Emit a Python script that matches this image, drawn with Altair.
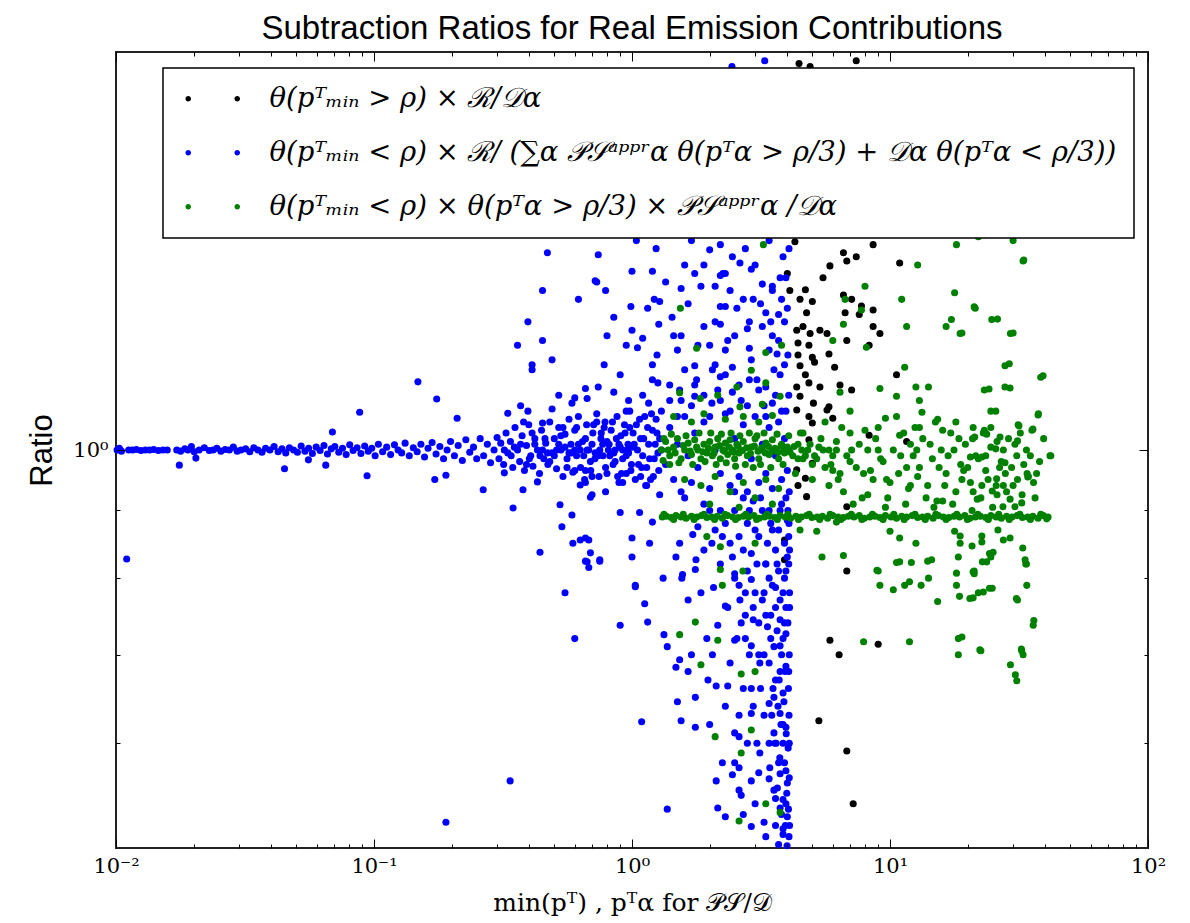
import altair as alt
import pandas as pd

# ---------------- series labels ----------------
L1 = "θ(pᵀₘᵢₙ > ρ) × ℛ/𝒟α"
L2 = "θ(pᵀₘᵢₙ < ρ) × ℛ/ (∑α 𝒫𝒮ᵃᵖᵖʳα θ(pᵀα > ρ/3) + 𝒟α θ(pᵀα < ρ/3))"
L3 = "θ(pᵀₘᵢₙ < ρ) × θ(pᵀα > ρ/3) × 𝒫𝒮ᵃᵖᵖʳα /𝒟α"
SERIES = [L1, L2, L3]
COLORS = ["#000000", "#0000ff", "#008000"]

TITLE = "Subtraction Ratios for Real Emission Contributions"
XTITLE = "min(pᵀ) , pᵀα for 𝒫𝒮/𝒟"
YTITLE = "Ratio"

x_major = [0.01, 0.1, 1, 10, 100]
x_major_text = ["10⁻²", "10⁻¹", "10⁰", "10¹", "10²"]
x_minor = [0.02, 0.03, 0.04, 0.05, 0.06, 0.07, 0.08, 0.09,
           0.2, 0.3, 0.4, 0.5, 0.6, 0.7, 0.8, 0.9,
           2, 3, 4, 5, 6, 7, 8, 9, 20, 30, 40, 50, 60, 70, 80, 90]
y_major = [1]
y_major_text = ["10⁰"]
y_minor = [0.6, 0.7, 0.8, 0.9]

# ---------------- black series ----------------
black_pts = [
    (4.28, 1.437), (8.6, 1.43), (6.6, 1.41), (7.4, 1.40), (6.8, 1.39), (10.9, 1.385),
    (5.85, 1.378), (5.5, 1.35), (4.0, 1.36), (4.09, 1.32), (4.7, 1.322), (4.48, 1.30),
    (5.0, 1.295), (4.75, 1.27), (6.6, 1.31), (7.1, 1.30), (7.75, 1.285), (6.7, 1.27),
    (8.6, 1.276), (7.6, 1.266), (4.35, 1.232), (4.6, 1.24), (4.9, 1.225), (5.35, 1.232),
    (5.7, 1.225), (8.6, 1.24), (9.14, 1.225), (8.3, 1.20), (6.8, 1.21), (4.4, 1.205),
    (4.85, 1.20), (4.4, 1.18), (5.0, 1.175), (5.8, 1.182), (4.48, 1.158), (5.1, 1.165),
    (4.7, 1.14), (6.1, 1.155), (10.6, 1.14), (4.35, 1.116), (4.85, 1.124), (5.35, 1.116),
    (6.4, 1.12), (7.1, 1.11), (4.48, 1.098), (5.05, 1.085), (5.8, 1.078), (4.35, 1.072),
    (4.85, 1.06), (5.0, 1.048), (6.0, 1.057), (5.7, 1.072), (8.3, 1.026), (11.6, 1.015),
    (4.85, 1.018), (4.35, 0.966), (4.7, 0.952), (4.4, 0.94), (5.0, 0.977), (6.8, 0.906),
    (4.75, 0.922), (3.9, 0.855), (3.9, 0.826), (6.8, 0.81), (5.85, 0.718), (9.0, 0.713),
    (6.35, 0.70), (5.3, 0.624), (6.8, 0.592), (7.2, 0.54),
    (4.44, 1.96), (4.9, 1.95), (7.4, 1.97), (7.6, 1.93), (4.6, 1.9),
]

# ---------------- blue series ----------------
blue_core = [
    (0.0101, 1.0), (0.0103, 1.003), (0.0105, 0.998), (0.0112, 1.0), (0.0116, 1.0),
    (0.012, 1.001), (0.0125, 0.999), (0.013, 1.0), (0.0135, 1.0), (0.014, 1.001),
    (0.0146, 0.999), (0.0152, 1.0), (0.0158, 1.0), (0.0172, 1.0), (0.0178, 0.998),
    (0.0185, 1.002), (0.019, 1.0), (0.0196, 1.006), (0.0201, 0.997), (0.021, 1.0),
    (0.022, 1.004), (0.023, 0.999), (0.0238, 1.0), (0.0246, 1.003), (0.0255, 0.998),
    (0.0265, 1.001), (0.0275, 1.0), (0.0285, 1.005), (0.0295, 0.998), (0.0305, 1.0),
    (0.0318, 1.002), (0.033, 0.997), (0.0342, 1.004), (0.0355, 1.0), (0.0368, 0.996),
    (0.038, 1.003), (0.0395, 1.0), (0.041, 1.006), (0.0425, 0.997), (0.044, 1.002),
    (0.0455, 0.995), (0.047, 1.004), (0.0488, 1.0), (0.0505, 0.996), (0.0522, 1.007),
    (0.054, 0.998), (0.0558, 1.003), (0.0577, 0.994), (0.0597, 1.005), (0.0618, 0.999),
    (0.064, 1.008), (0.066, 0.993), (0.0683, 1.002), (0.0705, 1.006), (0.073, 0.996),
    (0.0755, 1.003), (0.078, 0.992), (0.0805, 1.009), (0.083, 0.999), (0.086, 1.004),
    (0.089, 0.994), (0.092, 1.007), (0.095, 0.998), (0.098, 1.003), (0.101, 0.99),
    (0.104, 1.01), (0.108, 0.997), (0.112, 1.005), (0.116, 0.992), (0.12, 1.009),
    (0.124, 1.0), (0.128, 0.995), (0.132, 1.012), (0.137, 0.99), (0.142, 1.004),
    (0.147, 0.997), (0.152, 1.01), (0.157, 0.988), (0.162, 1.003), (0.168, 1.013),
    (0.174, 0.993), (0.18, 1.006), (0.186, 0.985), (0.192, 1.0), (0.198, 1.015),
    (0.205, 0.99), (0.212, 1.008), (0.22, 0.982), (0.227, 1.018), (0.235, 0.996),
    (0.243, 1.005), (0.25, 0.985), (0.258, 1.02), (0.266, 0.99), (0.275, 1.01),
    (0.283, 0.978), (0.292, 1.0), (0.3, 1.022),
]
blue_band = [
    (0.305, 0.985), (0.31, 1.012), (0.318, 0.975), (0.325, 1.03), (0.33, 0.995),
    (0.338, 1.015), (0.345, 0.97), (0.352, 1.04), (0.36, 1.0), (0.367, 0.98),
    (0.375, 1.025), (0.383, 0.965), (0.39, 1.008), (0.398, 1.045), (0.405, 0.99),
    (0.413, 0.972), (0.42, 1.02), (0.43, 1.0), (0.438, 0.96), (0.446, 1.035),
    (0.455, 0.985), (0.463, 1.012), (0.472, 0.975), (0.48, 1.05), (0.49, 0.995),
    (0.5, 1.02), (0.51, 0.968), (0.52, 1.04), (0.53, 1.0), (0.54, 0.955),
    (0.55, 1.028), (0.56, 0.985), (0.57, 1.055), (0.58, 1.01), (0.59, 0.962),
    (0.6, 1.035), (0.61, 0.99), (0.62, 1.06), (0.632, 0.97), (0.643, 1.015),
    (0.655, 0.95), (0.667, 1.045), (0.68, 1.0), (0.692, 0.965), (0.705, 1.03),
    (0.718, 0.985), (0.73, 1.065), (0.745, 0.955), (0.758, 1.02), (0.772, 0.99),
    (0.786, 1.05), (0.8, 0.96), (0.815, 1.01), (0.83, 1.035), (0.845, 0.975),
    (0.86, 1.0), (0.875, 1.06), (0.89, 0.945), (0.905, 1.025), (0.92, 0.985),
    (0.935, 1.045), (0.95, 0.96), (0.965, 1.01), (0.98, 1.07), (0.995, 0.975),
    (1.01, 1.03), (1.03, 0.95), (1.05, 1.0), (1.07, 1.055), (1.09, 0.97),
    (1.11, 1.02), (1.13, 0.94), (1.15, 1.04), (1.17, 0.985), (1.19, 1.065),
    (1.21, 0.955), (1.23, 1.01), (1.25, 1.03), (1.27, 0.965), (1.3, 1.0),
    (0.35, 1.005), (0.4, 0.985), (0.45, 1.0), (0.5, 0.99), (0.55, 1.005),
    (0.6, 1.0), (0.65, 0.99), (0.7, 1.01), (0.75, 1.0), (0.8, 1.015),
    (0.85, 0.995), (0.9, 1.005), (0.95, 0.99), (1.0, 1.005), (0.42, 1.01),
    (0.47, 0.995), (0.52, 1.01), (0.57, 0.995), (0.62, 1.01), (0.67, 1.0),
    (0.72, 0.995), (0.77, 1.01), (0.82, 0.99), (0.87, 1.02), (0.92, 1.0), (0.97, 0.995),
    (1.35, 0.975), (1.4, 1.04), (1.45, 0.95), (1.5, 1.01), (1.55, 0.93),
    (1.6, 1.06), (1.65, 0.99), (1.7, 0.945), (1.75, 1.03), (1.8, 0.97),
    (1.9, 1.05), (2.0, 0.935), (2.1, 1.0), (2.2, 0.96), (2.3, 1.065),
    (2.4, 0.94), (2.5, 1.02), (2.6, 0.955), (2.7, 1.045), (2.8, 0.93),
    (2.9, 0.985), (3.0, 1.06), (3.1, 0.945), (3.2, 1.01), (3.3, 0.96),
    (3.4, 1.04), (3.5, 0.935), (3.6, 0.99), (3.7, 1.05), (3.8, 0.95),
    (3.9, 1.02), (4.0, 0.965), (4.05, 1.0),
]
blue_band_more = [
    (0.32, 1.0), (0.34, 0.99), (0.37, 1.01), (0.39, 0.975), (0.41, 1.03), (0.44, 0.99),
    (0.46, 1.02), (0.48, 0.98), (0.51, 1.0), (0.53, 1.025), (0.56, 0.97), (0.58, 0.995),
    (0.61, 1.04), (0.63, 1.0), (0.66, 1.02), (0.69, 0.98), (0.71, 1.045), (0.74, 0.99),
    (0.76, 1.03), (0.79, 0.97), (0.81, 1.0), (0.84, 1.05), (0.86, 0.98), (0.89, 1.01),
    (0.91, 0.96), (0.94, 1.03), (0.96, 1.0), (0.99, 0.965), (1.02, 1.01), (1.04, 1.045),
    (1.06, 0.975), (1.08, 1.02), (1.1, 0.99), (1.12, 1.06), (1.14, 0.97), (1.16, 1.01),
    (1.18, 0.95), (1.2, 1.035), (1.22, 0.985), (1.24, 1.055), (1.26, 0.995), (1.28, 1.02),
    (0.66, 0.965), (0.7, 0.955), (0.78, 1.04), (0.88, 0.955), (0.98, 1.04), (1.08, 0.955),
    (0.6, 0.965), (0.54, 1.04),
]
blue_upper = [
    (0.148, 1.126), (0.175, 1.093), (0.088, 1.068), (0.069, 1.032), (0.21, 1.057),
    (0.47, 1.41), (0.45, 1.32), (0.73, 1.34), (0.62, 1.30), (0.395, 1.25),
    (0.36, 1.20), (0.45, 1.21), (0.49, 1.17), (0.41, 1.16), (0.41, 1.15),
    (0.52, 1.10), (0.60, 1.095), (0.585, 1.085), (0.49, 1.074), (0.395, 1.07),
    (0.37, 1.08), (0.33, 1.066), (0.38, 1.05), (0.45, 1.048), (0.73, 1.05),
    (1.04, 1.44), (1.24, 1.42), (1.7, 1.44), (2.0, 1.417), (2.2, 1.43),
    (0.74, 1.405), (1.6, 1.38), (2.62, 1.385), (2.9, 1.37), (1.0, 1.365),
    (1.2, 1.365), (1.75, 1.36), (2.2, 1.355), (2.3, 1.36), (0.72, 1.343),
    (0.79, 1.32), (1.55, 1.325), (2.1, 1.33), (2.4, 1.32), (3.2, 1.335),
    (3.5, 1.33), (1.22, 1.30), (1.28, 1.295), (0.99, 1.284), (2.2, 1.284),
    (2.3, 1.284), (2.95, 1.30), (3.8, 1.30), (1.43, 1.26), (3.3, 1.27),
    (3.7, 1.266), (1.0, 1.232), (1.27, 1.245), (1.9, 1.24), (2.2, 1.245),
    (2.8, 1.235), (0.8, 1.22), (1.1, 1.215), (1.55, 1.22), (2.35, 1.21),
    (3.5, 1.22), (1.05, 1.195), (1.5, 1.19), (2.0, 1.2), (2.3, 1.19),
    (2.85, 1.194), (3.65, 1.182), (0.78, 1.16), (0.9, 1.14), (1.2, 1.16),
    (1.75, 1.158), (2.1, 1.16), (2.45, 1.155), (3.75, 1.14), (0.74, 1.116),
    (0.85, 1.106), (1.26, 1.124), (1.53, 1.11), (1.78, 1.13), (2.2, 1.136),
    (2.85, 1.13), (3.3, 1.116), (0.97, 1.09), (1.16, 1.085), (1.4, 1.09),
    (1.75, 1.098), (2.04, 1.085), (2.45, 1.106), (3.5, 1.085), (0.67, 1.094),
    (0.66, 1.113), (3.9, 1.25), (4.02, 1.18), (3.95, 1.35), (4.05, 1.1),
    (2.44, 1.95), (3.08, 1.93), (3.27, 1.97),
]
blue_upper_more = [
    (1.3, 1.07), (1.4, 1.12), (1.5, 1.06), (1.6, 1.15), (1.7, 1.08), (1.8, 1.2),
    (1.9, 1.1), (2.0, 1.06), (2.1, 1.25), (2.2, 1.09), (2.3, 1.14), (2.4, 1.07),
    (2.5, 1.22), (2.6, 1.12), (2.7, 1.3), (2.8, 1.08), (2.9, 1.17), (3.0, 1.38),
    (3.1, 1.11), (3.2, 1.24), (3.3, 1.06), (3.4, 1.19), (3.5, 1.32), (3.6, 1.1),
    (3.7, 1.21), (3.8, 1.07), (3.9, 1.16), (4.0, 1.28), (4.06, 1.42), (3.85, 1.4),
    (3.4, 1.44), (2.75, 1.42), (2.45, 1.4), (1.9, 1.38), (1.35, 1.34), (1.15, 1.28),
    (0.95, 1.2), (0.85, 1.26), (1.25, 1.18), (1.45, 1.22), (1.65, 1.29), (1.85, 1.33),
    (2.05, 1.15), (2.25, 1.36), (2.55, 1.28), (2.85, 1.25), (3.15, 1.29), (3.45, 1.25),
    (3.75, 1.35), (3.95, 1.07), (1.1, 1.1), (1.2, 1.13), (0.95, 1.07), (1.55, 1.09),
    (1.75, 1.12), (2.15, 1.11), (2.65, 1.09), (3.05, 1.13), (3.55, 1.15), (3.25, 1.08),
]
blue_lower = [
    (0.045, 0.968), (0.0176, 0.974), (0.0204, 0.986), (0.0557, 0.983), (0.065, 0.974),
    (0.094, 0.956), (0.172, 0.95), (0.19, 0.957), (0.265, 0.933), (0.346, 0.904),
    (0.44, 0.837), (0.378, 0.933), (0.43, 0.946), (0.32, 0.961), (0.526, 0.909),
    (0.585, 0.893), (0.535, 0.875), (0.59, 0.85), (0.66, 0.858), (0.67, 0.823),
    (0.69, 0.836), (0.63, 0.941), (0.69, 0.921),
    (0.011, 0.827), (0.19, 0.523), (0.337, 0.562), (0.55, 0.78), (0.6, 0.72),
    (0.66, 0.945), (0.79, 0.93), (0.7, 0.925), (0.92, 0.945), (1.14, 0.94),
    (1.28, 0.925), (0.9, 0.897), (1.07, 0.897), (1.2, 0.882), (0.68, 0.855),
    (0.75, 0.826), (1.0, 0.858), (1.17, 0.85), (1.0, 0.83), (1.53, 0.85),
    (1.48, 0.83), (1.72, 0.863), (1.77, 0.826), (2.04, 0.85), (2.24, 0.86),
    (1.32, 0.80), (1.57, 0.805), (1.03, 0.788), (0.68, 0.815), (0.63, 0.855),
    (0.66, 0.824), (0.75, 0.824),
    (1.03, 0.79), (1.12, 0.765), (1.15, 0.741), (0.9, 0.737), (1.09, 0.623),
    (1.37, 0.535), (1.33, 0.725), (1.37, 0.71), (1.53, 0.694), (1.48, 0.685),
    (1.65, 0.68), (1.55, 0.624), (1.76, 0.617), (1.5, 0.645), (1.76, 0.65),
    (1.97, 0.67), (2.12, 0.663), (2.35, 0.663), (2.5, 0.718), (1.56, 0.80),
    (1.65, 0.77), (1.76, 0.812), (2.07, 0.787), (2.3, 0.762), (2.15, 0.737),
    (2.62, 0.77), (2.95, 0.744), (2.9, 0.711), (3.13, 0.69), (2.5, 0.806),
    (2.9, 0.798), (3.25, 0.78), (3.6, 0.787), (3.95, 0.81), (3.75, 0.744),
    (3.95, 0.726), (3.75, 0.711), (3.95, 0.686), (3.6, 0.67), (3.85, 0.655),
    (3.4, 0.643), (3.75, 0.632), (3.95, 0.617), (3.55, 0.611), (3.85, 0.60),
    (3.13, 0.59), (2.9, 0.632), (2.6, 0.607), (2.5, 0.611), (2.24, 0.58),
    (2.12, 0.562), (2.45, 0.568), (2.6, 0.575), (2.9, 0.562), (2.6, 0.553),
    (3.4, 0.564), (3.75, 0.569), (3.55, 0.553), (3.95, 0.572), (3.85, 0.544),
    (2.15, 0.536), (2.3, 0.528), (2.9, 0.519), (3.25, 0.523), (3.85, 0.517),
    (3.7, 0.503), (3.85, 0.512), (2.65, 0.548), (3.75, 0.536), (4.0, 0.528),
    (4.05, 0.82), (3.9, 0.80), (4.08, 0.78), (3.95, 0.76), (4.02, 0.74),
    (3.85, 0.72), (4.07, 0.70), (3.92, 0.68), (4.04, 0.66), (3.88, 0.645),
    (4.06, 0.63), (3.96, 0.61), (4.03, 0.595), (3.9, 0.58), (4.07, 0.565),
    (3.98, 0.55), (4.04, 0.535), (3.93, 0.52), (4.06, 0.51), (3.99, 0.502),
    (3.7, 0.81), (3.75, 0.77), (3.65, 0.73), (3.8, 0.70), (3.72, 0.67),
    (3.68, 0.64), (3.78, 0.62), (3.62, 0.60), (3.74, 0.585), (3.66, 0.555),
    (3.8, 0.53), (3.5, 0.79), (3.45, 0.75), (3.55, 0.71), (3.4, 0.69),
    (3.52, 0.66), (3.48, 0.63), (3.58, 0.60), (3.42, 0.575), (3.6, 0.545),
    (3.3, 0.82), (3.2, 0.77), (3.35, 0.735), (3.25, 0.70), (3.1, 0.74),
    (3.0, 0.78), (3.15, 0.66), (2.95, 0.64), (3.05, 0.60), (2.85, 0.70),
    (2.75, 0.75), (2.8, 0.81), (2.6, 0.79), (2.45, 0.83), (2.7, 0.66), (2.55, 0.72),
    (2.5, 0.90), (2.8, 0.88), (3.1, 0.86), (3.4, 0.90), (3.7, 0.87),
    (4.0, 0.885), (3.9, 0.85), (3.6, 0.84), (3.3, 0.82), (2.9, 0.835),
    (2.6, 0.86), (2.3, 0.88), (2.0, 0.90), (1.8, 0.875), (3.95, 0.92),
    (3.75, 0.90), (3.5, 0.87), (3.2, 0.90), (2.95, 0.915), (2.7, 0.92),
    (4.05, 0.86), (4.02, 0.90), (4.08, 0.84), (4.06, 0.88),
]
blue_lower_more = [
    (1.6, 0.92), (1.9, 0.91), (2.2, 0.90), (2.5, 0.93), (2.85, 0.90), (3.15, 0.92),
    (3.45, 0.88), (3.8, 0.91), (4.07, 0.93), (2.1, 0.87), (2.4, 0.85), (2.7, 0.84),
    (3.0, 0.87), (3.35, 0.85), (3.65, 0.82), (4.0, 0.83), (2.2, 0.82), (2.5, 0.80),
    (2.75, 0.78), (3.05, 0.82), (3.4, 0.80), (3.85, 0.78), (4.08, 0.76), (2.35, 0.76),
    (2.65, 0.74), (2.95, 0.76), (3.3, 0.75), (3.6, 0.76), (3.9, 0.74), (2.05, 0.70),
    (2.4, 0.69), (2.75, 0.72), (3.1, 0.70), (3.45, 0.72), (3.75, 0.68), (4.05, 0.68),
    (2.3, 0.64), (2.6, 0.63), (2.9, 0.66), (3.25, 0.63), (3.55, 0.65), (3.85, 0.62),
    (4.07, 0.60), (2.5, 0.58), (2.8, 0.60), (3.1, 0.57), (3.4, 0.60), (3.7, 0.58),
    (4.0, 0.56), (2.7, 0.53), (3.0, 0.54), (3.3, 0.51), (3.6, 0.52), (3.95, 0.54),
    (4.08, 0.52), (1.85, 0.78), (1.95, 0.72), (1.7, 0.70), (2.0, 0.62), (1.9, 0.84),
]
blue_pts = (blue_core + blue_band + blue_band_more + blue_upper + blue_upper_more
            + blue_lower + blue_lower_more)

# ---------------- green series ----------------
green_line = [
    (1.31, 0.89), (1.36, 0.891), (1.42, 0.889), (1.48, 0.892), (1.55, 0.89),
    (1.62, 0.888), (1.7, 0.891), (1.78, 0.89), (1.86, 0.892), (1.95, 0.889),
    (2.04, 0.89), (2.14, 0.891), (2.24, 0.888), (2.35, 0.892), (2.46, 0.89),
    (2.58, 0.889), (2.7, 0.891), (2.83, 0.89), (2.97, 0.892), (3.11, 0.888),
    (3.26, 0.89), (3.42, 0.891), (3.58, 0.889), (3.75, 0.892), (3.93, 0.89),
    (4.12, 0.888), (4.32, 0.891), (4.53, 0.89), (4.75, 0.892), (4.98, 0.889),
    (5.22, 0.89), (5.47, 0.891), (5.73, 0.888), (6.0, 0.892), (6.3, 0.89),
    (6.6, 0.889), (6.9, 0.891), (7.25, 0.89), (7.6, 0.892), (7.95, 0.888),
    (8.35, 0.89), (8.75, 0.891), (9.15, 0.889), (9.6, 0.892), (10.1, 0.89),
    (10.6, 0.888), (11.1, 0.891), (11.6, 0.89), (12.2, 0.892), (12.8, 0.889),
    (13.4, 0.89), (14.0, 0.891), (14.7, 0.888), (15.4, 0.892), (16.1, 0.89),
    (16.9, 0.889), (17.7, 0.891), (18.6, 0.89), (19.5, 0.892), (20.4, 0.888),
    (21.4, 0.89), (22.4, 0.891), (23.5, 0.889), (24.6, 0.892), (25.8, 0.89),
    (27.0, 0.888), (28.3, 0.891), (29.7, 0.89), (31.1, 0.892), (32.6, 0.889),
    (34.2, 0.89), (35.8, 0.891), (37.5, 0.888), (39.3, 0.892), (41.0, 0.89),
    (1.33, 0.894), (1.45, 0.886), (1.58, 0.894), (1.74, 0.886), (1.9, 0.894),
    (2.09, 0.886), (2.29, 0.894), (2.52, 0.886), (2.76, 0.894), (3.04, 0.886),
    (3.34, 0.894), (3.66, 0.886), (4.02, 0.894), (4.42, 0.886), (4.86, 0.894),
    (5.34, 0.886), (5.86, 0.894), (6.45, 0.886), (7.08, 0.894), (7.78, 0.886),
    (8.55, 0.894), (9.4, 0.886), (10.35, 0.894), (11.35, 0.886), (12.5, 0.894),
    (13.7, 0.886), (15.05, 0.894), (16.5, 0.886), (18.15, 0.894), (19.95, 0.886),
    (21.9, 0.894), (24.05, 0.886), (26.4, 0.894), (29.0, 0.886), (31.85, 0.894),
    (35.0, 0.886), (38.4, 0.894), (40.5, 0.887),
]
green_band = [
    (1.3, 1.0), (1.35, 1.015), (1.4, 0.99), (1.45, 1.005), (1.5, 1.02),
    (1.55, 0.985), (1.6, 1.0), (1.65, 1.012), (1.7, 0.992), (1.75, 1.018),
    (1.8, 1.0), (1.85, 0.985), (1.9, 1.01), (1.95, 0.995), (2.0, 1.015),
    (2.05, 0.99), (2.1, 1.005), (2.15, 1.02), (2.2, 0.985), (2.25, 1.0),
    (2.3, 1.012), (2.35, 0.992), (2.4, 1.018), (2.45, 1.0), (2.5, 0.985),
    (2.55, 1.01), (2.6, 0.995), (2.7, 1.015), (2.8, 0.99), (2.9, 1.005),
    (3.0, 1.02), (3.1, 0.985), (3.2, 1.0), (3.3, 1.012), (3.4, 0.992),
    (3.5, 1.018), (3.6, 1.0), (3.7, 0.985), (3.8, 1.01), (3.9, 0.995),
    (4.0, 1.005), (4.2, 0.99), (4.4, 1.01), (4.6, 0.985), (4.8, 1.0),
    (5.0, 0.975), (5.3, 1.005), (5.6, 0.97), (6.0, 0.99), (6.4, 0.96),
    (1.32, 0.982), (1.42, 1.028), (1.52, 0.978), (1.62, 1.025), (1.72, 0.975),
    (1.82, 1.03), (1.92, 0.98), (2.02, 1.03), (2.12, 0.975), (2.22, 1.028),
    (2.32, 0.978), (2.42, 1.03), (2.52, 0.972), (2.62, 1.025), (2.75, 0.975),
    (2.85, 1.03), (2.95, 0.97), (3.05, 1.025), (3.15, 0.975), (3.25, 1.03),
    (3.45, 0.97), (3.65, 1.028), (3.85, 0.975), (4.05, 1.025), (4.3, 0.96), (4.5, 1.03),
    (1.45, 1.06), (1.7, 1.05), (1.9, 1.065), (2.3, 1.055), (2.7, 1.06),
    (3.1, 1.05), (3.5, 1.062), (1.6, 0.95), (1.85, 0.94), (2.1, 0.955),
    (2.4, 0.93), (2.7, 0.945), (3.0, 0.92), (3.3, 0.95), (3.7, 0.935),
    (2.0, 0.91), (2.6, 0.905), (3.5, 0.91), (1.95, 0.86), (2.2, 0.845), (3.0, 0.85),
    (1.38, 1.0), (1.47, 0.995), (1.58, 1.008), (1.68, 0.998), (1.78, 1.005),
    (1.88, 0.997), (1.98, 1.003), (2.08, 0.995), (2.18, 1.008), (2.28, 0.998),
    (2.38, 1.005), (2.48, 0.996), (2.58, 1.006), (2.68, 0.999), (2.78, 1.004),
    (2.88, 0.994), (2.98, 1.007), (3.08, 0.998), (3.18, 1.004), (3.28, 0.995),
    (3.38, 1.006), (3.48, 0.998), (3.58, 1.003), (3.68, 0.996), (3.78, 1.007),
    (3.88, 0.999), (3.98, 1.004), (4.1, 0.996), (4.25, 1.006), (4.4, 0.985),
    (4.55, 1.0), (4.7, 0.99), (4.9, 1.01), (5.1, 0.99), (5.5, 1.0),
    (5.9, 0.975), (6.2, 1.015), (7.0, 0.98), (1.33, 1.02), (1.4, 0.975),
]
green_mid = [
    (4.6, 1.03), (5.0, 0.95), (5.4, 1.02), (5.8, 0.94), (6.2, 1.0), (6.6, 0.93),
    (7.0, 1.03), (7.4, 0.97), (7.8, 0.92), (8.2, 1.0), (8.6, 0.95), (9.0, 1.04),
    (9.4, 0.98), (9.8, 0.92), (10.3, 1.0), (10.8, 0.96), (11.3, 1.03), (11.8, 0.935),
    (12.3, 0.99), (12.8, 0.955), (13.4, 1.02), (14.0, 0.94), (14.6, 0.985), (15.2, 0.915),
    (15.8, 1.0), (16.5, 0.96), (17.2, 1.03), (18.0, 0.93), (18.8, 0.975), (19.6, 1.01),
    (20.5, 0.945), (21.5, 0.99), (22.5, 0.92), (23.5, 0.965), (24.6, 1.005), (25.8, 0.94),
    (27.0, 0.98), (28.3, 0.93), (29.6, 0.97), (31.0, 0.99), (32.5, 0.925), (34.0, 0.96),
    (36.0, 0.945), (38.0, 0.98), (5.2, 0.985), (6.0, 0.965), (6.8, 0.99), (7.6, 1.01),
    (8.4, 0.965), (9.2, 0.985), (10.0, 0.945), (11.0, 0.99), (12.0, 1.01), (13.0, 0.97),
    (14.3, 1.01), (15.5, 0.97), (16.8, 0.99), (18.5, 1.02), (20.0, 0.97), (21.0, 1.04),
    (22.0, 0.985), (24.0, 0.95), (26.0, 1.015), (28.0, 0.96), (30.0, 0.94), (33.0, 0.975),
    (6.5, 1.04), (8.0, 1.035), (12.5, 1.04), (16.0, 1.035), (19.0, 0.95), (23.0, 1.03),
    (27.5, 1.0), (11.5, 0.91), (14.8, 0.905), (9.6, 0.905), (7.2, 0.91), (17.5, 0.91),
    (25.0, 0.905), (20.8, 0.90),
    (5.6, 1.05), (6.3, 0.95), (7.1, 1.0), (7.9, 0.96), (8.8, 1.02), (9.7, 0.95),
    (10.6, 1.06), (11.6, 0.97), (12.7, 1.0), (13.8, 0.92), (15.0, 1.05), (16.3, 0.94),
    (17.7, 1.0), (19.3, 0.965), (20.9, 1.02), (22.7, 0.94), (24.6, 1.04), (26.6, 0.97),
    (28.8, 1.02), (31.2, 0.95), (33.8, 1.0), (36.5, 0.92), (39.4, 1.02), (8.2, 0.925),
    (12.0, 0.94), (16.0, 0.915), (21.0, 0.93), (26.0, 0.925), (30.5, 1.01), (35.0, 0.99),
    (5.8, 1.0), (9.0, 1.0), (13.0, 1.04), (18.0, 1.05), (23.5, 0.99), (27.5, 0.94),
    (32.0, 1.03), (37.0, 0.96),
]
green_upper = [
    (3.23, 1.43), (18.1, 1.43), (32.8, 1.39), (12.8, 1.38), (8.0, 1.33), (11.1, 1.30),
    (17.8, 1.315), (21.4, 1.28), (17.3, 1.255), (24.8, 1.255), (16.5, 1.24), (11.6, 1.24),
    (18.7, 1.225), (29.3, 1.225), (6.7, 1.30), (7.75, 1.276), (6.6, 1.245), (8.1, 1.196),
    (1.54, 1.28), (1.78, 1.194), (3.8, 1.20), (6.0, 1.21), (11.4, 1.155), (27.9, 1.158),
    (38.4, 1.135), (9.14, 1.113), (10.6, 1.098), (12.6, 1.116), (14.1, 1.116), (13.0, 1.09),
    (23.2, 1.11), (27.9, 1.116), (37.6, 1.065), (6.4, 1.106), (7.0, 1.07), (24.6, 1.07),
    (9.6, 1.057), (13.3, 1.068), (15.3, 1.055), (31.4, 1.045), (35.5, 1.035), (23.2, 1.035),
    (10.9, 1.026), (41.7, 0.99), (34.4, 0.955), (3.3, 1.185), (3.3, 1.124), (2.9, 1.149),
    (2.15, 1.10), (1.84, 1.094), (2.55, 1.116), (1.53, 1.105), (3.75, 1.098), (3.2, 1.083),
    (2.62, 1.078), (33.0, 1.392), (21.2, 1.283), (26.1, 1.256), (19.0, 1.226), (30.0, 1.226),
    (29.0, 1.162), (39.2, 1.138), (24.2, 1.112), (29.2, 1.114), (25.7, 1.07), (37.5, 1.063),
    (21.3, 1.023), (23.7, 1.028), (26.7, 1.023), (31.6, 1.043), (35.8, 1.037), (31.2, 1.016),
    (42.0, 0.99), (20.5, 0.988), (22.7, 0.988), (25.7, 1.002), (27.9, 0.978), (34.2, 0.954),
    (25.9, 0.951), (24.9, 0.931), (21.8, 0.918), (29.2, 0.918), (32.4, 0.912), (30.5, 0.906),
    (27.4, 0.906), (22.0, 1.45), (30.0, 1.44),
]
green_lower = [
    (4.48, 0.87), (5.2, 0.868), (6.2, 0.882), (10.0, 0.868), (10.9, 0.858), (12.6, 0.85),
    (17.8, 0.868), (18.7, 0.85), (22.7, 0.861), (27.5, 0.855), (26.2, 0.87), (5.45, 0.83),
    (6.6, 0.832), (8.9, 0.811), (10.6, 0.822), (12.1, 0.822), (14.5, 0.826), (14.1, 0.80),
    (18.4, 0.83), (21.2, 0.806), (24.3, 0.835), (24.6, 0.83), (33.4, 0.826), (33.9, 0.79),
    (11.4, 0.79), (9.14, 0.79), (18.1, 0.79), (9.0, 0.81), (10.9, 0.823), (14.0, 0.824),
    (18.1, 0.807), (21.2, 0.81), (22.8, 0.823), (33.6, 0.82), (10.3, 0.784), (11.9, 0.795),
    (13.2, 0.79), (15.3, 0.768), (18.6, 0.775), (20.4, 0.772), (22.0, 0.78), (24.3, 0.786),
    (30.9, 0.772), (35.9, 0.737), (7.9, 0.716), (11.9, 0.716), (18.4, 0.72), (18.4, 0.70),
    (22.3, 0.706), (32.3, 0.707), (32.8, 0.70), (29.3, 0.688), (30.6, 0.676), (18.7, 0.861),
    (20.8, 0.846), (22.7, 0.852), (25.1, 0.837), (29.2, 0.858), (32.7, 0.843), (33.8, 0.82),
    (23.7, 0.823), (21.0, 0.809), (21.0, 0.773), (23.0, 0.781), (24.9, 0.786), (31.2, 0.77),
    (36.1, 0.743), (19.0, 0.722), (22.5, 0.705), (32.4, 0.705), (31.0, 0.669),
    (2.2, 0.812), (2.24, 0.79), (2.69, 0.81), (1.76, 0.741), (1.53, 0.725), (2.15, 0.718),
    (1.85, 0.688), (2.65, 0.677), (3.0, 0.68), (2.1, 0.607), (2.9, 0.614), (2.65, 0.59),
    (3.3, 0.54), (3.75, 0.532), (2.6, 0.524),
]
green_pts = green_line + green_band + green_mid + green_upper + green_lower

# ---------------- table ----------------
rows = []
for name, pts in zip(SERIES, [black_pts, blue_pts, green_pts]):
    for xv, yv in pts:
        rows.append({"x": xv, "y": yv, "series": name})
df = pd.DataFrame(rows)
anchor = pd.DataFrame({"x": [1.0], "y": [1.0]})

xscale = alt.Scale(type="log", domain=[0.01, 100], nice=False)
yscale = alt.Scale(type="log", domain=[0.5, 2], nice=False)

TWO_DOTS = ("M -2.73,0 A 0.28,0.28 0 1,0 -2.17,0 A 0.28,0.28 0 1,0 -2.73,0 Z "
            "M 2.17,0 A 0.28,0.28 0 1,0 2.73,0 A 0.28,0.28 0 1,0 2.17,0 Z")

points = alt.Chart(df).mark_circle(size=50, opacity=1).encode(
    x=alt.X("x:Q", scale=xscale, axis=None),
    y=alt.Y("y:Q", scale=yscale, axis=None),
    color=alt.Color(
        "series:N",
        scale=alt.Scale(domain=SERIES, range=COLORS),
        legend=alt.Legend(
            title=None, orient="none", legendX=47, legendY=16,
            padding=17, rowPadding=25, symbolType=TWO_DOTS, symbolSize=400,
            symbolOffset=19, labelOffset=43, symbolStrokeWidth=0,
            labelFont="DejaVu Serif", labelFontStyle="italic",
            labelFontSize=27.5, labelLimit=2000, labelColor="black",
            strokeColor="black", fillColor="white", cornerRadius=0,
        ),
    ),
)


def lbl_expr(vals, texts):
    parts = []
    for v, t in zip(vals, texts):
        parts.append(f"abs(datum.value - {v}) < {v} * 0.001 ? '{t}'")
    return " : ".join(parts) + " : ''"


def x_layer(axis):
    return alt.Chart(anchor).mark_point(opacity=0).encode(
        x=alt.X("x:Q", scale=xscale, axis=axis),
        y=alt.Y("y:Q", scale=yscale, axis=None),
    )


def y_layer(axis):
    return alt.Chart(anchor).mark_point(opacity=0).encode(
        x=alt.X("x:Q", scale=xscale, axis=None),
        y=alt.Y("y:Q", scale=yscale, axis=axis),
    )


def tick_axis(orient, vals, size):
    return alt.Axis(orient=orient, values=vals, labels=False, domain=False, grid=False,
                    ticks=True, tickSize=size, offset=-size, tickColor="black",
                    tickWidth=1, title=None, zindex=1)


x_label_axis = alt.Axis(
    orient="bottom", values=x_major, ticks=False, domain=False, grid=False,
    labelExpr=lbl_expr(x_major, x_major_text), labelFlush=False,
    labelFont="DejaVu Serif", labelFontSize=21, labelColor="black", labelPadding=7,
    title=XTITLE, titleFont="DejaVu Serif", titleFontSize=25,
    titleFontWeight="normal", titleColor="black", titlePadding=14,
)
y_label_axis = alt.Axis(
    orient="left", values=y_major, ticks=False, domain=False, grid=False,
    labelExpr=lbl_expr(y_major, y_major_text),
    labelFont="DejaVu Serif", labelFontSize=21, labelColor="black", labelPadding=8,
    title=YTITLE, titleFont="Liberation Sans", titleFontSize=31,
    titleFontWeight="normal", titleColor="black", titlePadding=14,
)

layers = [
    points,
    x_layer(x_label_axis),
    x_layer(tick_axis("bottom", x_major, 9)),
    x_layer(tick_axis("bottom", x_minor, 4)),
    x_layer(tick_axis("top", x_major, 9)),
    x_layer(tick_axis("top", x_minor, 4)),
    y_layer(y_label_axis),
    y_layer(tick_axis("left", y_major, 9)),
    y_layer(tick_axis("left", y_minor, 4)),
    y_layer(tick_axis("right", y_major, 9)),
    y_layer(tick_axis("right", y_minor, 4)),
]

chart = alt.layer(*layers).resolve_axis(x="independent", y="independent").properties(
    width=1032, height=796,
    autosize=alt.AutoSizeParams(type="none"),
    padding={"left": 116, "top": 52, "right": 42, "bottom": 75},
    title=alt.TitleParams(TITLE, font="Liberation Sans", fontSize=33,
                          fontWeight="normal", color="black", anchor="middle", offset=6),
).configure_view(stroke="#222222", strokeWidth=2).configure_legend(strokeWidth=1.5)

chart.save("out.html", embed_options={"renderer": "svg", "actions": False})
